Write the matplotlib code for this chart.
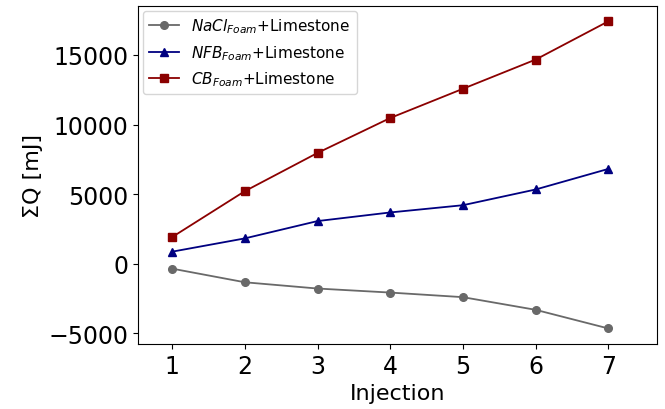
import matplotlib
matplotlib.use("Agg")
import matplotlib.pyplot as plt

injection = [1, 2, 3, 4, 5, 6, 7]
nacl = [-360, -1340, -1790, -2080, -2410, -3320, -4660]
nfb = [860, 1815, 3060, 3680, 4200, 5330, 6810]
cb = [1910, 5210, 7960, 10470, 12570, 14670, 17420]

fig = plt.figure(figsize=(6.65, 4.1), dpi=100)
ax = fig.add_axes([0.2075, 0.159, 0.7805, 0.824])

ax.plot(injection, nacl, color='dimgray', marker='o', markersize=5.5, lw=1.3,
        label=r'$NaCl_{Foam}$+Limestone')
ax.plot(injection, nfb, color='navy', marker='^', markersize=5.5, lw=1.3,
        label=r'$NFB_{Foam}$+Limestone')
ax.plot(injection, cb, color='darkred', marker='s', markersize=5.5, lw=1.3,
        label=r'$CB_{Foam}$+Limestone')

ax.set_xlim(0.53, 7.67)
ax.set_xticks(injection)
ax.set_yticks([-5000, 0, 5000, 10000, 15000])
ax.tick_params(labelsize=17)
ax.set_xlabel('Injection', fontsize=16)
ax.set_ylabel('ΣQ [mJ]', fontsize=16)
ax.legend(loc='upper left', fontsize=11, borderaxespad=0.3, handlelength=2.0)

fig.savefig('out.png', dpi=100)
